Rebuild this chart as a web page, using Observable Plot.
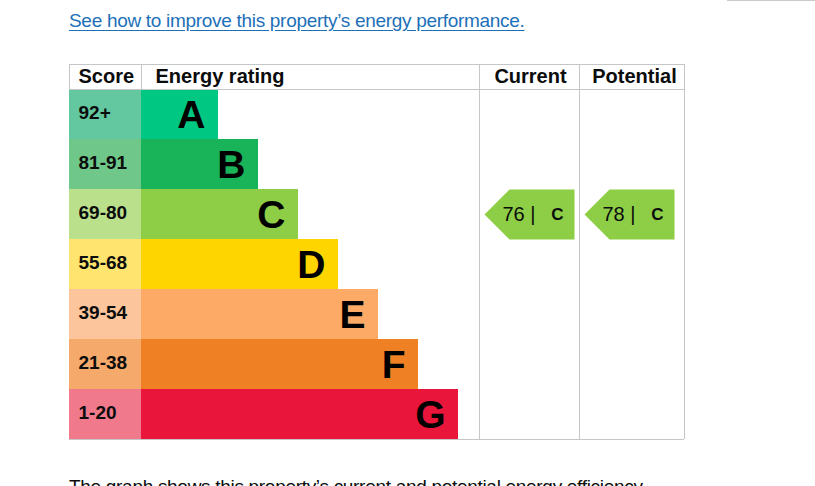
<!DOCTYPE html>
<html>
<head>
<meta charset="utf-8">
<script src="https://cdn.jsdelivr.net/npm/d3@7"></script>
<script src="https://cdn.jsdelivr.net/npm/@observablehq/plot@0.6"></script>
<style>
  html, body { margin: 0; padding: 0; background: #fff; }
  body { font-family: "Liberation Sans", Arial, sans-serif; width: 815px; height: 486px; overflow: hidden; position: relative; }
  #top { height: 52px; position: relative; }
  #link { position: absolute; left: 69px; top: 11px; font-size: 19px; line-height: 19px; color: #1d70b8; text-decoration: underline; text-underline-offset: 3px; letter-spacing: -0.3px; white-space: nowrap; }
  #edge { position: absolute; left: 727px; top: 0; width: 88px; height: 1px; background: #c8cacb; }
  #caption { position: absolute; left: 69px; top: 477px; font-size: 19px; line-height: 19px; color: #0b0c0c; letter-spacing: -0.3px; white-space: nowrap; }
  #chart svg { display: block; }
</style>
</head>
<body>
<div id="top"><div id="link"></div><div id="edge"></div></div>
<div id="chart"></div>
<div id="caption"></div>
<script>
// ---- data ----
const linkText = "See how to improve this property’s energy performance.";
const captionText = "The graph shows this property’s current and potential energy efficiency.";
const ratings = ["A", "B", "C", "D", "E", "F", "G"];
const scoreRanges = ["92+", "81-91", "69-80", "55-68", "39-54", "21-38", "1-20"];
const bandColors = ["#00c781", "#19b459", "#8dce46", "#ffd500", "#fcaa65", "#ef8023", "#e9153b"];
const scoreColors = ["#63c8a0", "#6fc88a", "#bbe08c", "#ffe46f", "#fdc59c", "#f5a96b", "#f07a8c"];
const columnNames = ["Score", "Energy rating", "Current", "Potential"];
const assessedKinds = ["Current", "Potential"];
const assessedScores = [76, 78];
const assessedRatings = ["C", "C"];

// ---- layout (pixels, not data) ----
const colEdges = [69, 141, 479, 579, 684];
const headerX = [78, 155, 530, 634];
const firstBarEnd = 218, barStep = 40;
const gridColor = "#c4c6c8";
const textColor = "#0b0c0c";
const font = '"Liberation Sans", Arial, sans-serif';

document.getElementById("link").textContent = linkText;
document.getElementById("caption").textContent = captionText;

const rows = ratings.map((r, i) => ({
  rating: r, range: scoreRanges[i], band: bandColors[i], tint: scoreColors[i],
  row: i, end: firstBarEnd + barStep * i
}));
const headers = columnNames.map((name, i) => ({name, x: headerX[i]}));
const assessed = assessedKinds.map((k, i) => {
  const row = ratings.indexOf(assessedRatings[i]);
  const left = colEdges[2 + i];
  return {kind: k, score: assessedScores[i], rating: assessedRatings[i], row, left, color: bandColors[row]};
});

const arrowSymbol = {
  draw(ctx) {
    ctx.moveTo(-45, 0);
    ctx.lineTo(-20, -25);
    ctx.lineTo(45, -25);
    ctx.lineTo(45, 25);
    ctx.lineTo(-20, 25);
    ctx.closePath();
  }
};

const chart = Plot.plot({
  width: 815,
  height: 400,
  marginTop: 0, marginBottom: 0, marginLeft: 0, marginRight: 0,
  x: {type: "linear", domain: [0, 815], range: [0, 815], axis: null},
  y: {type: "linear", domain: [-0.5, 7], range: [12, 387], axis: null},
  color: {type: "identity"},
  style: {fontFamily: font, background: "#fff", overflow: "visible"},
  marks: [
    // score cells
    Plot.rect(rows, {x1: colEdges[0], x2: colEdges[1], y1: "row", y2: d => d.row + 1, fill: "tint", inset: 0}),
    // rating bars
    Plot.rect(rows, {x1: colEdges[1], x2: "end", y1: "row", y2: d => d.row + 1, fill: "band", inset: 0}),
    // grid lines
    Plot.ruleY([-0.5, 0, 7], {x1: colEdges[0], x2: colEdges[4], stroke: gridColor}),
    Plot.ruleX([colEdges[2], colEdges[3], colEdges[4]], {y1: -0.5, y2: 7, stroke: gridColor}),
    Plot.ruleX([colEdges[0], colEdges[1]], {y1: -0.5, y2: 0, stroke: gridColor}),
    // header text
    Plot.text(headers.slice(0, 2), {x: "x", y: () => -0.25, text: "name", textAnchor: "start", fontSize: 20, fontWeight: "bold", fill: textColor}),
    Plot.text(headers.slice(2), {x: "x", y: () => -0.25, text: "name", textAnchor: "middle", fontSize: 20, fontWeight: "bold", fill: textColor}),
    // score labels
    Plot.text(rows, {x: colEdges[0] + 9, y: d => d.row + 0.5, text: "range", textAnchor: "start", dy: -2, fontSize: 19, fontWeight: "bold", fill: textColor}),
    // rating letters
    Plot.text(rows, {x: "end", y: d => d.row + 0.5, text: "rating", textAnchor: "end", dx: -13, dy: 1, fontSize: 39, fontWeight: "bold", fill: "#000"}),
    // current / potential arrows
    Plot.dot(assessed, {x: d => d.left + 50, y: d => d.row + 0.5, symbol: arrowSymbol, fill: "color", stroke: "none", r: 10}),
    Plot.text(assessed, {x: d => d.left + 23, y: d => d.row + 0.5, text: d => `${d.score} |`, textAnchor: "start", fontSize: 20, fill: textColor}),
    Plot.text(assessed, {x: d => d.left + 78, y: d => d.row + 0.5, text: "rating", textAnchor: "middle", fontSize: 17, fontWeight: "bold", fill: textColor})
  ]
});
document.getElementById("chart").appendChild(chart);
</script>
</body>
</html>
